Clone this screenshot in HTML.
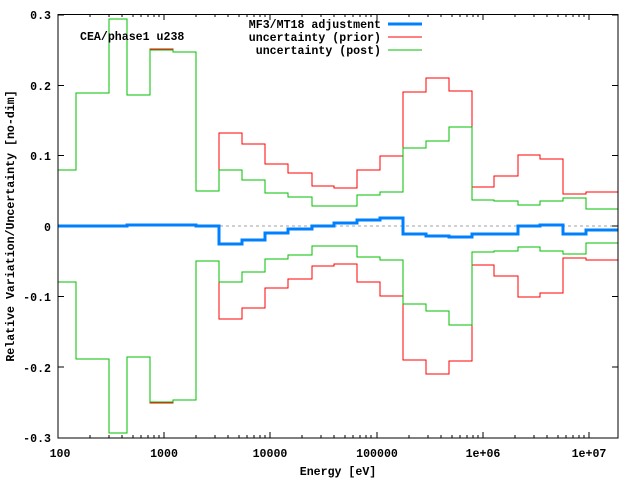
<!DOCTYPE html>
<html><head><meta charset="utf-8"><style>
html,body{margin:0;padding:0;background:#fff;}
svg{display:block;}
text{font-family:"Liberation Mono",monospace;font-weight:bold;font-size:11.6px;fill:#000;}
</style></head><body>
<svg width="640" height="480" viewBox="0 0 640 480" xmlns="http://www.w3.org/2000/svg">
<rect width="640" height="480" fill="#fff"/>
<g shape-rendering="crispEdges">
<line x1="58" y1="226" x2="618" y2="226" stroke="#a0a0a0" stroke-width="1" stroke-dasharray="3,3"/>
<g stroke="#000" stroke-width="1">
<path d="M58,15H64M618,15H612M58,85.5H64M618,85.5H612M58,155.5H64M618,155.5H612M58,226H64M618,226H612M58,296.5H64M618,296.5H612M58,367H64M618,367H612M58,438H64M618,438H612"/>
<path d="M164,438V432M164,14V20M270,438V432M270,14V20M377,438V432M377,14V20M483,438V432M483,14V20M589,438V432M589,14V20"/>
<path d="M90,438V435M109,438V435M122,438V435M133,438V435M141,438V435M148,438V435M154,438V435M159,438V435M196,438V435M215,438V435M228,438V435M239,438V435M247,438V435M254,438V435M260,438V435M265,438V435M302,438V435M321,438V435M334,438V435M345,438V435M353,438V435M360,438V435M366,438V435M371,438V435M409,438V435M428,438V435M441,438V435M452,438V435M460,438V435M467,438V435M473,438V435M478,438V435M515,438V435M534,438V435M547,438V435M558,438V435M566,438V435M573,438V435M579,438V435M584,438V435"/>
<path d="M90,14V17M109,14V17M122,14V17M133,14V17M141,14V17M148,14V17M154,14V17M159,14V17M196,14V17M215,14V17M228,14V17M239,14V17M247,14V17M254,14V17M260,14V17M265,14V17M302,14V17M321,14V17M334,14V17M345,14V17M353,14V17M360,14V17M366,14V17M371,14V17M409,14V17M428,14V17M441,14V17M452,14V17M460,14V17M467,14V17M473,14V17M478,14V17M515,14V17M534,14V17M547,14V17M558,14V17M566,14V17M573,14V17M579,14V17M584,14V17"/>
</g>
<g fill="none" stroke-width="1">
<path id="red" stroke="#ff0000" d="M58,170H76V93H109V19H127V95H150V49H173V52H196V191H219V133H242V144H265V164H288V173H312V186H334V188H357V170H380V156H403V92H426V78H449V91H472V187H494V176H518V155H540V159H563V194H586V192H618"/>
<use href="#red" transform="translate(0,452) scale(1,-1)"/>
<path id="grn" stroke="#00c000" d="M58,170H76V93H109V19H127V95H150V50H173V52H196V191H219V170H242V180H265V193H288V197H312V206H334V206H357V195H380V192H403V148H426V141H449V127H472V200H494V201H518V205H540V201H563V198H586V209H618"/>
<use href="#grn" transform="translate(0,452) scale(1,-1)"/>
<path stroke="#0080ff" stroke-width="3" d="M58,226H127V225H196V226H219V244H242V240H265V233H288V229H312V226H334V223H357V220H380V218H403V234H426V236H449V237H472V234H518V226H540V225H563V234H586V230H618"/>
</g>
<rect x="58" y="14.5" width="560" height="423.5" fill="none" stroke="#000" stroke-width="1"/>
<line x1="388" y1="24" x2="422" y2="24" stroke="#0080ff" stroke-width="3"/>
<line x1="388" y1="37" x2="422" y2="37" stroke="#ff0000" stroke-width="1"/>
<line x1="388" y1="50" x2="422" y2="50" stroke="#00c000" stroke-width="1"/>
</g>
<g text-anchor="end">
<text x="51" y="19">0.3</text>
<text x="51" y="90">0.2</text>
<text x="51" y="160">0.1</text>
<text x="51" y="231">0</text>
<text x="51" y="301">-0.1</text>
<text x="51" y="372">-0.2</text>
<text x="51" y="442">-0.3</text>
</g>
<g text-anchor="middle">
<text x="60" y="457">100</text>
<text x="164" y="457">1000</text>
<text x="270" y="457">10000</text>
<text x="377" y="457">100000</text>
<text x="483" y="457">1e+06</text>
<text x="589" y="457">1e+07</text>
<text x="338" y="475">Energy [eV]</text>
<text transform="translate(14,226) rotate(-90)">Relative Variation/Uncertainty [no-dim]</text>
</g>
<text x="80" y="40">CEA/phase1 u238</text>
<g text-anchor="end">
<text x="381" y="28">MF3/MT18 adjustment</text>
<text x="381" y="41">uncertainty (prior)</text>
<text x="381" y="54">uncertainty (post)</text>
</g>
</svg>
</body></html>
